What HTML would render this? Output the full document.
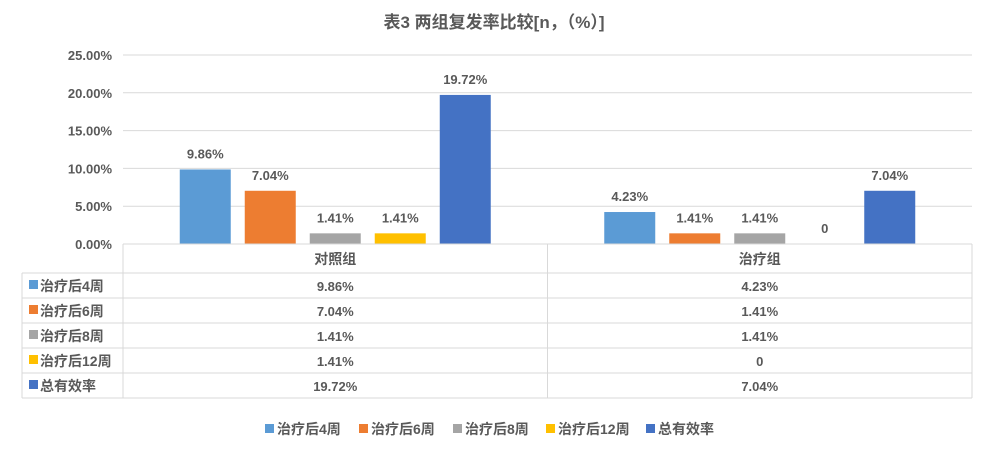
<!DOCTYPE html>
<html><head><meta charset="utf-8"><style>
body{margin:0;background:#fff}
svg text{font-family:"Liberation Sans","Noto Sans CJK SC",sans-serif;font-weight:bold;fill:#595959}
</style></head><body>
<svg id="c" width="988" height="454" xmlns="http://www.w3.org/2000/svg">
<text x="494" y="28" text-anchor="middle" font-size="17">表3 两组复发率比较[n，（%）]</text>
<g id="grid"></g><g id="bars"></g><g id="table"></g><g id="legend"></g>
</svg>
<script>
const categories=["对照组","治疗组"];
const seriesNames=["治疗后4周","治疗后6周","治疗后8周","治疗后12周","总有效率"];
const colors=["#5b9bd5","#ed7d31","#a5a5a5","#ffc000","#4472c4"];
const week4=[9.86,4.23];
const week6=[7.04,1.41];
const week8=[1.41,1.41];
const week12=[1.41,0];
const total=[19.72,7.04];
const labels=[["9.86%","4.23%"],["7.04%","1.41%"],["1.41%","1.41%"],["1.41%","0"],["19.72%","7.04%"]];
const ticks=[0,5,10,15,20,25];
const series=[week4,week6,week8,week12,total];
const NS="http://www.w3.org/2000/svg";
const X0=123,X1=972,Y0=244,Y1=55,MAX=25;
const y=v=>Y0-(v/MAX)*(Y0-Y1);
const gw=(X1-X0)/categories.length;
function el(t,a,p,txt){const e=document.createElementNS(NS,t);for(const k in a)e.setAttribute(k,a[k]);if(txt!==undefined)e.textContent=txt;p.appendChild(e);return e;}
const G=document.getElementById('grid'),B=document.getElementById('bars'),T=document.getElementById('table'),L=document.getElementById('legend');
ticks.forEach(t=>{
 const l=el('line',{x1:X0,x2:X1,y1:y(t),y2:y(t),stroke:'#d9d9d9'},G);
 
 
 const tx=el('text',{x:112,y:y(t)+5,'text-anchor':'end','font-size':13},G,t.toFixed(2)+'%');
 
 
});
const bw=51,step=65;
categories.forEach((c,ci)=>{
 const cx=X0+gw*(ci+0.5);
 series.forEach((s,si)=>{
  const x=cx+(si-2)*step-bw/2;
  const r=el('rect',{x:x,y:y(s[ci]),width:bw,height:Y0-y(s[ci]),fill:colors[si]},B);
  
  
  const t=el('text',{x:x+bw/2,y:y(s[ci])-11,'text-anchor':'middle','font-size':13},B,labels[si][ci]);
  
  
 });
});
// table
const rows=[244,273,298,323,348,373,398];
const lc='#d9d9d9';
el('line',{x1:X0,x2:X1,y1:244,y2:244,stroke:lc},T);
for(let i=1;i<rows.length;i++)el('line',{x1:22,x2:X1,y1:rows[i],y2:rows[i],stroke:lc},T);
el('line',{x1:22,x2:22,y1:273,y2:398,stroke:lc},T);
[X0,X0+gw,X1].forEach(x=>el('line',{x1:x,x2:x,y1:244,y2:398,stroke:lc},T));
categories.forEach((c,ci)=>{
 const t=el('text',{x:X0+gw*(ci+0.5),y:264,'text-anchor':'middle','font-size':14},T,c);
 
 
});
seriesNames.forEach((n,si)=>{
 const yy=rows[si+1]+18;
 el('rect',{x:29,y:yy-11,width:9,height:9,fill:colors[si]},T);
 const t=el('text',{x:40,y:yy,'font-size':14},T,n);
 
 
 categories.forEach((c,ci)=>{
  const v=el('text',{x:X0+gw*(ci+0.5),y:yy,'text-anchor':'middle','font-size':13},T,labels[si][ci]);
  
  
 });
});
// legend
const lx=[265,359,453,546,646];
seriesNames.forEach((n,si)=>{
 const g=el('g',{},L);
 
 
 el('rect',{x:lx[si],y:424,width:9,height:9,fill:colors[si]},g);
 el('text',{x:lx[si]+12,y:434,'font-size':14},g,n);
});
</script>
</body></html>
